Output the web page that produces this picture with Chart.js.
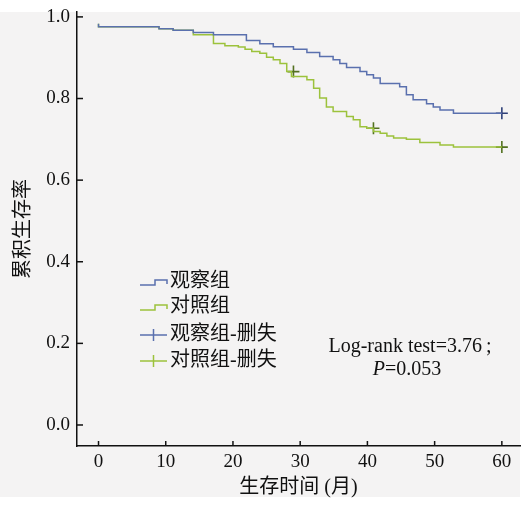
<!DOCTYPE html>
<html>
<head>
<meta charset="utf-8">
<script src="https://cdn.jsdelivr.net/npm/chart.js@4.4.1/dist/chart.umd.min.js"></script>
<style>
  html, body { margin: 0; padding: 0; background: #fff; }
</style>
</head>
<body>
<canvas id="km" width="530" height="509"></canvas>
<script>
// Kaplan-Meier steps (month, survival after the drop)
const obsTimes = [0, 9, 11.1, 14.1, 17.1, 22.0, 24.0, 26.0, 29.0, 31.0, 32.9, 34.9, 35.9, 36.9, 38.9, 39.9, 40.9, 41.9, 44.8, 45.8, 46.8, 48.8, 49.8, 50.8, 52.8, 54.8, 60];
const obsSurv  = [0.983, 0.976, 0.971, 0.967, 0.962, 0.956, 0.942, 0.934, 0.927, 0.921, 0.913, 0.903, 0.895, 0.886, 0.876, 0.866, 0.858, 0.850, 0.837, 0.829, 0.809, 0.797, 0.787, 0.779, 0.772, 0.764, 0.764];

const ctrlTimes = [0, 9, 11.1, 14.1, 17.1, 18.8, 20.8, 21.8, 22.8, 24, 25, 26, 27, 28, 28.7, 31, 32, 32.9, 33.9, 34.9, 36.9, 37.9, 38.9, 39.9, 40.9, 41.9, 42.9, 43.9, 45.8, 47.8, 50.8, 52.8, 56.8, 60];
const ctrlSurv  = [0.983, 0.976, 0.971, 0.967, 0.956, 0.935, 0.929, 0.926, 0.921, 0.915, 0.911, 0.901, 0.895, 0.886, 0.866, 0.854, 0.846, 0.825, 0.801, 0.779, 0.768, 0.756, 0.748, 0.731, 0.727, 0.719, 0.715, 0.708, 0.703, 0.700, 0.692, 0.686, 0.681, 0.681];

// censored observations
const obsCensorT  = [60];
const obsCensorS  = [0.764];
const ctrlCensorT = [29, 40.9, 60];
const ctrlCensorS = [0.866, 0.727, 0.681];

const xTicks = [0, 10, 20, 30, 40, 50, 60];
const yTicks = [0, 0.2, 0.4, 0.6, 0.8, 1.0];

const seriesNames = ['观察组', '对照组', '观察组-删失', '对照组-删失'];

const blue = '#5a70ae';
const green = '#9cc23c';
const blueDark = '#2f4078';
const greenDark = '#52701f';
const FONT = '"Liberation Serif", "Noto Sans CJK SC", serif';

function pts(ts, ss) {
    return ts.map((t, i) => ({ x: t, y: ss[i] }));
}

// page background + plot panel
const bgPlugin = {
    id: 'bg',
    beforeDraw(chart) {
        const ctx = chart.ctx;
        ctx.save();
        ctx.fillStyle = '#ffffff';
        ctx.fillRect(0, 0, chart.width, chart.height);
        ctx.fillStyle = '#f4f3f3';
        ctx.fillRect(0, 12, 520, 485);
        ctx.restore();
    }
};

// inward tick marks
const tickPlugin = {
    id: 'inTicks',
    afterDraw(chart) {
        const { ctx, chartArea: a, scales: { x, y } } = chart;
        ctx.save();
        ctx.strokeStyle = '#111';
        ctx.lineWidth = 1.5;
        xTicks.forEach(v => {
            const px = x.getPixelForValue(v);
            ctx.beginPath();
            ctx.moveTo(px, a.bottom);
            ctx.lineTo(px, a.bottom - 5);
            ctx.stroke();
        });
        yTicks.forEach(v => {
            const py = y.getPixelForValue(v);
            ctx.beginPath();
            ctx.moveTo(a.left, py);
            ctx.lineTo(a.left + 6, py);
            ctx.stroke();
        });
        ctx.restore();
    }
};

// legend in the plot + log-rank note
const legendPlugin = {
    id: 'kmLegend',
    afterDraw(chart) {
        const ctx = chart.ctx;
        ctx.save();
        ctx.font = '20px ' + FONT;
        ctx.textBaseline = 'middle';
        ctx.fillStyle = '#111';
        ctx.lineWidth = 1.5;

        const rows = [282, 307, 335, 361];
        const cols = [blue, green, blue, green];
        rows.forEach((ry, i) => {
            ctx.strokeStyle = cols[i];
            ctx.beginPath();
            if (i < 2) {
                ctx.moveTo(140, ry + 3);
                ctx.lineTo(155, ry + 3);
                ctx.lineTo(155, ry - 2);
                ctx.lineTo(167, ry - 2);
                ctx.lineTo(167, ry + 2);
            } else {
                ctx.moveTo(140, ry);
                ctx.lineTo(167, ry);
                ctx.moveTo(153.5, ry - 6);
                ctx.lineTo(153.5, ry + 6);
            }
            ctx.stroke();
            ctx.fillText(seriesNames[i], 170, ry);
        });

        // Log-rank text
        ctx.textAlign = 'center';
        ctx.fillText('Log-rank test=3.76\u2009;', 410, 347);
        ctx.font = 'italic 20px ' + FONT;
        const w1 = ctx.measureText('P').width;
        ctx.font = '20px ' + FONT;
        const w2 = ctx.measureText('=0.053').width;
        const sx = 407 - (w1 + w2) / 2;
        ctx.textAlign = 'left';
        ctx.font = 'italic 20px ' + FONT;
        ctx.fillText('P', sx, 370);
        ctx.font = '20px ' + FONT;
        ctx.fillText('=0.053', sx + w1, 370);
        ctx.restore();
    }
};

new Chart(document.getElementById('km'), {
    type: 'line',
    data: {
        datasets: [
            {
                label: seriesNames[0],
                data: pts(obsTimes, obsSurv),
                borderColor: blue,
                borderWidth: 1.5,
                stepped: 'after',
                pointRadius: 0,
                fill: false
            },
            {
                label: seriesNames[1],
                data: pts(ctrlTimes, ctrlSurv),
                borderColor: green,
                borderWidth: 1.5,
                stepped: 'after',
                pointRadius: 0,
                fill: false
            },
            {
                type: 'scatter',
                label: seriesNames[2],
                data: pts(obsCensorT, obsCensorS),
                pointStyle: 'cross',
                pointRadius: 6,
                borderWidth: 1.6,
                borderColor: blueDark,
                showLine: false
            },
            {
                type: 'scatter',
                label: seriesNames[3],
                data: pts(ctrlCensorT, ctrlCensorS),
                pointStyle: 'cross',
                pointRadius: 6,
                borderWidth: 1.6,
                borderColor: greenDark,
                showLine: false
            }
        ]
    },
    options: {
        responsive: false,
        animation: false,
        layout: { padding: { left: 0, right: 10, top: 12, bottom: 0 } },
        plugins: {
            legend: { display: false },
            tooltip: { enabled: false }
        },
        scales: {
            x: {
                type: 'linear',
                min: -3.2,
                max: 62.7,
                afterBuildTicks(scale) { scale.ticks = xTicks.map(v => ({ value: v })); },
                afterFit(scale) {
                    scale.height = 63;
                    scale.paddingLeft = 0;
                    scale.paddingRight = 0;
                },
                grid: { display: false, drawTicks: false },
                border: { display: true, color: '#111', width: 1.5 },
                ticks: {
                    color: '#111',
                    padding: 5,
                    font: { family: FONT, size: 19 },
                    maxRotation: 0
                },
                title: {
                    display: true,
                    text: '生存时间 (月)',
                    color: '#111',
                    font: { family: FONT, size: 20 },
                    padding: { top: 0, bottom: 9 }
                }
            },
            y: {
                type: 'linear',
                min: -0.0515,
                max: 1.012,
                afterBuildTicks(scale) { scale.ticks = yTicks.map(v => ({ value: v })); },
                afterFit(scale) {
                    scale.width = 77;
                    scale.paddingTop = 0;
                    scale.paddingBottom = 0;
                },
                grid: { display: false, drawTicks: false },
                border: { display: true, color: '#111', width: 1.5 },
                ticks: {
                    color: '#111',
                    padding: 7,
                    font: { family: FONT, size: 19 },
                    callback: v => v.toFixed(1)
                },
                title: {
                    display: true,
                    text: '累积生存率',
                    color: '#111',
                    font: { family: FONT, size: 20 },
                    padding: { top: 12, bottom: 0 }
                }
            }
        }
    },
    plugins: [bgPlugin, tickPlugin, legendPlugin]
});
</script>
</body>
</html>
